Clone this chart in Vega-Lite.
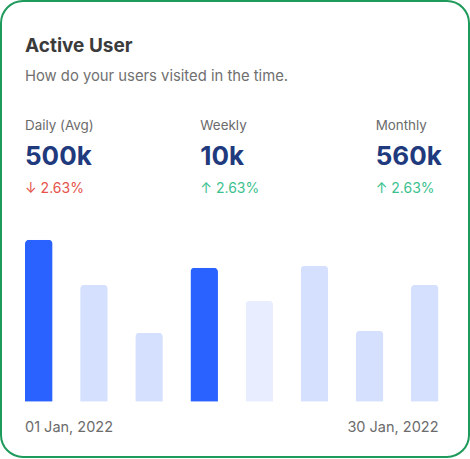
{
  "$schema": "https://vega.github.io/schema/vega-lite/v6.json",
  "width": 468,
  "height": 456,
  "autosize": "none",
  "padding": {"left": 1, "top": 1, "right": 1, "bottom": 2},
  "background": "white",
  "config": {
    "view": {"stroke": "#1E9A5B", "strokeWidth": 2, "cornerRadius": 22, "fill": "white"},
    "font": "Inter",
    "text": {"font": "Inter"}
  },
  "datasets": {
    "bars": [
      {"day": "2022-01-01", "users": 162, "group": "highlight"},
      {"day": "2022-01-05", "users": 117, "group": "normal"},
      {"day": "2022-01-09", "users": 69, "group": "normal"},
      {"day": "2022-01-13", "users": 134, "group": "highlight"},
      {"day": "2022-01-17", "users": 101, "group": "muted"},
      {"day": "2022-01-21", "users": 136, "group": "normal"},
      {"day": "2022-01-25", "users": 71, "group": "normal"},
      {"day": "2022-01-30", "users": 117, "group": "normal"}
    ],
    "stats": [
      {"period": "Daily (Avg)", "value": "500k", "change": "↓ 2.63%", "trend": "down"},
      {"period": "Weekly", "value": "10k", "change": "↑ 2.63%", "trend": "up"},
      {"period": "Monthly", "value": "560k", "change": "↑ 2.63%", "trend": "up"}
    ],
    "header": [
      {"line": "title", "text": "Active User"},
      {"line": "subtitle", "text": "How do your users visited in the time."}
    ],
    "dates": [
      {"day": "2022-01-01", "label": "01 Jan, 2022", "end": "start"},
      {"day": "2022-01-30", "label": "30 Jan, 2022", "end": "end"}
    ]
  },
  "layer": [
    {
      "layer": [
        {
          "data": {"name": "bars"},
          "mark": {"type": "bar", "cornerRadiusTopLeft": 4, "cornerRadiusTopRight": 4},
          "encoding": {
            "x": {"field": "day", "type": "ordinal", "scale": {"range": [24, 437.5], "paddingInner": 0.5, "paddingOuter": 0}, "axis": null},
            "y": {"field": "users", "type": "quantitative", "scale": {"domain": [0, 162], "range": [400.7, 238.7], "nice": false, "zero": true}, "axis": null},
            "color": {
              "condition": [
                {"test": "datum.group === 'highlight'", "value": "#2962FF"},
                {"test": "datum.group === 'muted'", "value": "#E8EEFF"}
              ],
              "value": "#D5E0FF"
            }
          }
        },
        {
          "data": {"name": "dates"},
          "transform": [{"filter": "datum.end === 'start'"}],
          "mark": {"type": "text", "align": "left", "baseline": "alphabetic", "dy": 30.6, "fontSize": 14.5, "color": "#6B6B6B"},
          "encoding": {
            "x": {"field": "day", "type": "ordinal", "bandPosition": 0, "axis": null},
            "y": {"datum": 0, "type": "quantitative"},
            "text": {"field": "label"}
          }
        },
        {
          "data": {"name": "dates"},
          "transform": [{"filter": "datum.end === 'end'"}],
          "mark": {"type": "text", "align": "right", "baseline": "alphabetic", "dy": 30.6, "fontSize": 14.5, "color": "#6B6B6B"},
          "encoding": {
            "x": {"field": "day", "type": "ordinal", "bandPosition": 1, "axis": null},
            "y": {"datum": 0, "type": "quantitative"},
            "text": {"field": "label"}
          }
        }
      ]
    },
    {
      "layer": [
        {
          "data": {"name": "header"},
          "transform": [{"filter": "datum.line === 'title'"}],
          "mark": {"type": "text", "align": "left", "baseline": "alphabetic", "fontSize": 19, "fontWeight": "bold", "color": "#3B3B3B"},
          "encoding": {
            "x": {"datum": "Daily (Avg)", "type": "nominal", "scale": {"type": "point", "domain": ["Daily (Avg)", "Weekly", "Monthly"], "range": [24, 374.7], "padding": 0}, "axis": null},
            "y": {"field": "line", "type": "nominal", "scale": {"type": "point", "domain": ["title", "subtitle", "label", "value", "change"], "range": [50.5, 192.3], "padding": 0}, "axis": null},
            "text": {"field": "text"}
          }
        },
        {
          "data": {"name": "header"},
          "transform": [{"filter": "datum.line === 'subtitle'"}],
          "mark": {"type": "text", "align": "left", "baseline": "alphabetic", "dy": -5.5, "fontSize": 14.8, "color": "#707070"},
          "encoding": {
            "x": {"datum": "Daily (Avg)", "type": "nominal"},
            "y": {"field": "line", "type": "nominal"},
            "text": {"field": "text"}
          }
        },
        {
          "data": {"name": "stats"},
          "mark": {"type": "text", "align": "left", "baseline": "alphabetic", "dy": 7.6, "fontSize": 13.4, "color": "#6B6B6B"},
          "encoding": {
            "x": {"field": "period", "type": "nominal"},
            "y": {"datum": "label", "type": "nominal"},
            "text": {"field": "period"}
          }
        },
        {
          "data": {"name": "stats"},
          "mark": {"type": "text", "align": "left", "baseline": "alphabetic", "dy": 7.2, "fontSize": 26, "fontWeight": "bold", "color": "#1F3A7D"},
          "encoding": {
            "x": {"field": "period", "type": "nominal"},
            "y": {"datum": "value", "type": "nominal"},
            "text": {"field": "value"}
          }
        },
        {
          "data": {"name": "stats"},
          "mark": {"type": "text", "align": "left", "baseline": "alphabetic", "fontSize": 14},
          "encoding": {
            "x": {"field": "period", "type": "nominal"},
            "y": {"datum": "change", "type": "nominal"},
            "text": {"field": "change"},
            "color": {"condition": {"test": "datum.trend === 'down'", "value": "#E5534B"}, "value": "#3CC18E"}
          }
        }
      ]
    }
  ],
  "resolve": {"scale": {"x": "independent", "y": "independent"}}
}
